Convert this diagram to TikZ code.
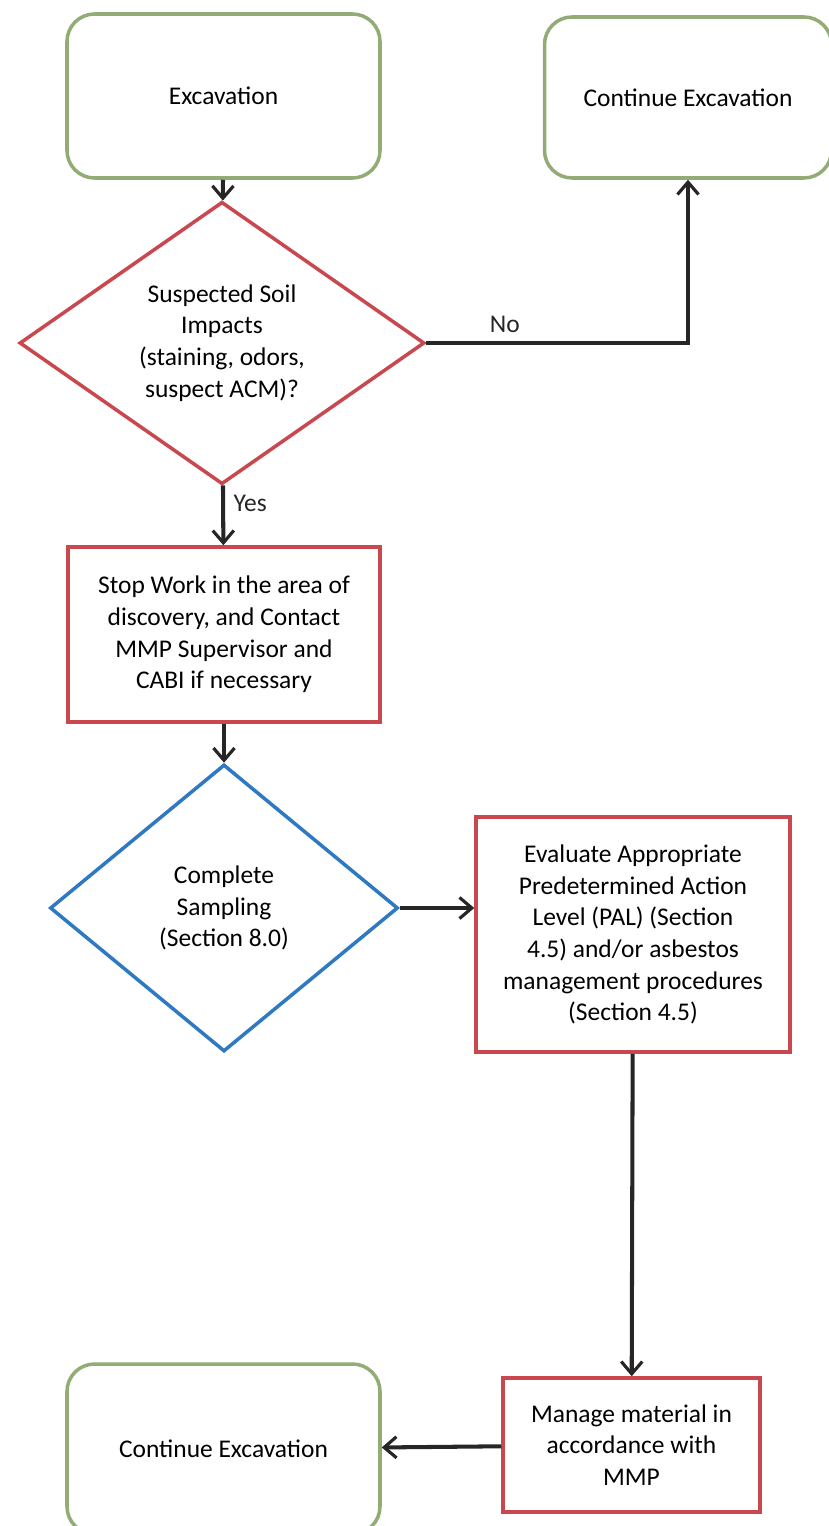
\documentclass[tikz,border=0pt]{standalone}
\usepackage{fontspec}
\setmainfont{Carlito}
\usetikzlibrary{positioning, arrows.meta, shapes.geometric}
\definecolor{soilgreen}{HTML}{93AB75}
\definecolor{soilred}{HTML}{C9474F}
\definecolor{soilblue}{HTML}{2F78C2}

\begin{document}
\begin{tikzpicture}[
        box/.style={rectangle, draw=soilred, line width=2pt, text centered, align=center, inner sep=2pt},
        endbox/.style={rectangle, rounded corners=0.55cm, draw=soilgreen, line width=2pt, text centered, align=center},
        decision/.style={diamond, line width=2pt, text centered, align=center, inner sep=0pt},
        flow/.style={-{Straight Barb[length=7pt, width=12pt, line width=1.8pt]}, line width=2.3pt, black!85}]
      \useasboundingbox (0,0) rectangle (16.58,-30.52);
      \fontsize{14.5}{18}\selectfont
      % Start
      \node[endbox, minimum width=6.26cm, minimum height=3.28cm] (exc) at (4.47,-1.92) {Excavation};
      \node[endbox, minimum width=5.74cm, minimum height=3.22cm] (contA) at (13.76,-1.95) {Continue Excavation};
      \node[decision, draw=soilred, minimum width=8.1cm, minimum height=5.5cm] (impacts) at (4.44,-6.86)
        {Suspected Soil\\Impacts\\(staining, odors,\\suspect ACM)?};
      \node[box, minimum width=6.24cm, minimum height=3.5cm] (stop) at (4.48,-12.69)
        {Stop Work in the area of\\discovery, and Contact\\MMP Supervisor and\\CABI if necessary};
      % Sampling
      \node[decision, draw=soilblue, minimum width=6.96cm, minimum height=5.74cm] (sampling) at (4.48,-18.16)
        {Complete\\Sampling\\(Section 8.0)};
      \node[box, minimum width=6.28cm, minimum height=4.7cm] (pal) at (12.66,-18.69)
        {Evaluate Appropriate\\Predetermined Action\\Level (PAL) (Section\\4.5) and/or asbestos\\management procedures\\(Section 4.5)};
      \node[box, minimum width=5.14cm, minimum height=2.68cm] (manage) at (12.63,-28.9)
        {Manage material in\\accordance with\\MMP};
      \node[endbox, minimum width=6.26cm, minimum height=3.4cm] (contB) at (4.47,-28.98) {Continue Excavation};

      \draw[flow] (exc) -- (impacts);
      \draw[flow] (impacts.east) -| node[pos=0.15, above] {No} (contA.south);
      \draw[flow] (impacts) -- node[pos=0.3, right] {Yes} (stop);
      \draw[flow] (stop) -- (sampling);
      \draw[flow] (sampling.east) -- (sampling.east -| pal.west);
      \draw[flow] (pal) -- (manage);
      \draw[flow] (manage) -- (contB);
    \end{tikzpicture}
\end{document}
